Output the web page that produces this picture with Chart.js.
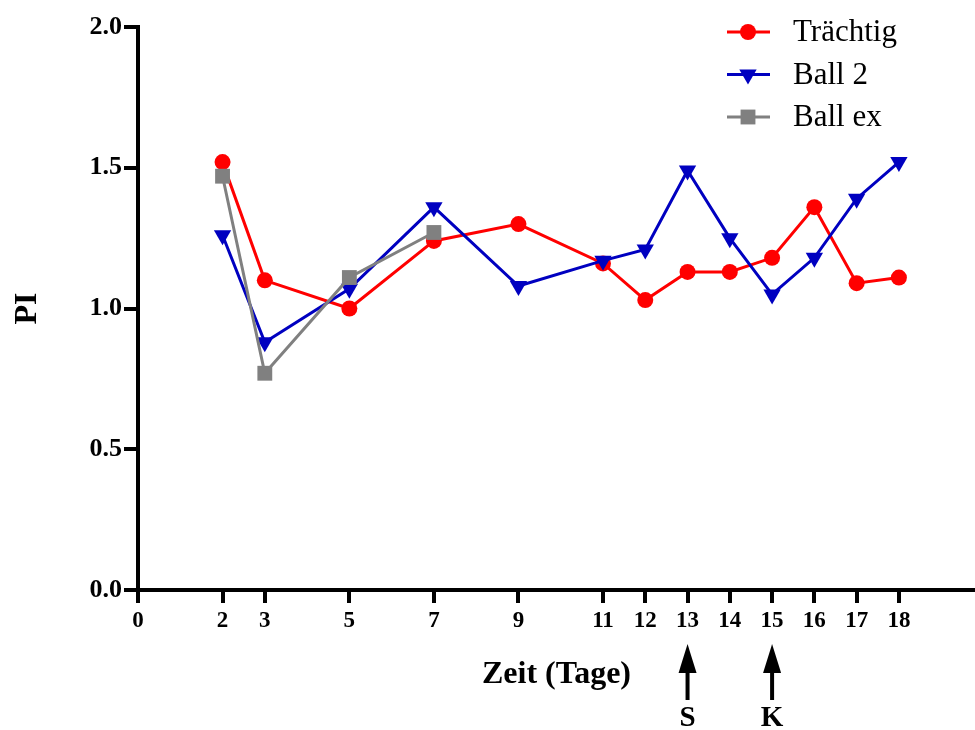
<!DOCTYPE html>
<html>
<head>
<meta charset="utf-8">
<script src="https://cdn.jsdelivr.net/npm/chart.js@4/dist/chart.umd.min.js"></script>
<style>
  html, body { margin: 0; padding: 0; background: #fff; overflow: hidden; }
  canvas { display: block; }
</style>
</head>
<body>
<canvas id="piChart" width="975" height="730"></canvas>
<script>
// Daten
const tageTraechtig = [2, 3, 5, 7, 9, 11, 12, 13, 14, 15, 16, 17, 18];
const piTraechtig = [1.52, 1.10, 1.00, 1.24, 1.30, 1.16, 1.03, 1.13, 1.13, 1.18, 1.36, 1.09, 1.11];

const tageBall2 = [2, 3, 5, 7, 9, 11, 12, 13, 14, 15, 16, 17, 18];
const piBall2 = [1.26, 0.88, 1.07, 1.36, 1.08, 1.17, 1.21, 1.49, 1.25, 1.05, 1.18, 1.39, 1.52];

const tageBallEx = [2, 3, 5, 7];
const piBallEx = [1.47, 0.77, 1.11, 1.27];

// Achsenbeschriftung
const xTicks = [0, 2, 3, 5, 7, 9, 11, 12, 13, 14, 15, 16, 17, 18];
const yTicks = [0, 0.5, 1.0, 1.5, 2.0];

// Pfeile unter der x-Achse
const pfeilTage = [13, 15];
const pfeilText = ['S', 'K'];

const serif = "'Liberation Serif', 'Times New Roman', serif";

function toPoints(xs, ys) {
    return xs.map((x, i) => ({ x: x, y: ys[i] }));
}

// eigene Legende: Linie + Marker + Text
const legendPlugin = {
    id: 'lineLegend',
    afterDraw(chart) {
        const ctx = chart.ctx;
        ctx.save();
        chart.data.datasets.forEach((ds, i) => {
            const y = 32 + i * 42.5;
            ctx.strokeStyle = ds.borderColor;
            ctx.lineWidth = 3;
            ctx.beginPath();
            ctx.moveTo(727, y);
            ctx.lineTo(770, y);
            ctx.stroke();
            ctx.fillStyle = ds.borderColor;
            drawMarker(ctx, ds.pointStyle, 748, y, ds.pointRadius, ds.pointRotation || 0);
            ctx.fillStyle = '#000';
            ctx.font = "31px " + serif;
            ctx.textBaseline = 'middle';
            ctx.textAlign = 'left';
            ctx.fillText(ds.label, 793, y + 1);
        });
        ctx.restore();
    }
};

function drawMarker(ctx, style, x, y, r, rot) {
    ctx.beginPath();
    if (style === 'circle') {
        ctx.arc(x, y, r, 0, Math.PI * 2);
    } else if (style === 'rect') {
        const s = r * Math.SQRT1_2;
        ctx.rect(x - s, y - s, 2 * s, 2 * s);
    } else if (style === 'triangle') {
        let a = rot * Math.PI / 180;
        ctx.moveTo(x + Math.sin(a) * r, y - Math.cos(a) * r);
        a += 2 * Math.PI / 3;
        ctx.lineTo(x + Math.sin(a) * r, y - Math.cos(a) * r);
        a += 2 * Math.PI / 3;
        ctx.lineTo(x + Math.sin(a) * r, y - Math.cos(a) * r);
        ctx.closePath();
    }
    ctx.fill();
}

// Pfeile S und K
const arrowPlugin = {
    id: 'arrows',
    afterDraw(chart) {
        const ctx = chart.ctx;
        const xs = chart.scales.x;
        ctx.save();
        ctx.fillStyle = '#000';
        ctx.strokeStyle = '#000';
        pfeilTage.forEach((tag, i) => {
            const px = xs.getPixelForValue(tag);
            ctx.lineWidth = 4;
            ctx.beginPath();
            ctx.moveTo(px, 700);
            ctx.lineTo(px, 668);
            ctx.stroke();
            ctx.beginPath();
            ctx.moveTo(px, 644);
            ctx.lineTo(px + 9, 673);
            ctx.lineTo(px - 9, 673);
            ctx.closePath();
            ctx.fill();
            ctx.font = "bold 29px " + serif;
            ctx.textAlign = 'center';
            ctx.textBaseline = 'middle';
            ctx.fillText(pfeilText[i], px, 719);
        });
        ctx.restore();
    }
};

const ctx = document.getElementById('piChart').getContext('2d');
const piChart = new Chart(ctx, {
    type: 'line',
    data: {
        datasets: [{
            label: 'Trächtig',
            data: toPoints(tageTraechtig, piTraechtig),
            borderColor: '#ff0000',
            backgroundColor: '#ff0000',
            borderWidth: 3,
            pointStyle: 'circle',
            pointRadius: 8,
            pointBorderWidth: 0,
            order: 3
        }, {
            label: 'Ball 2',
            data: toPoints(tageBall2, piBall2),
            borderColor: '#0000c0',
            backgroundColor: '#0000c0',
            borderWidth: 3,
            pointStyle: 'triangle',
            pointRotation: 180,
            pointRadius: 10,
            pointBorderWidth: 0,
            order: 2
        }, {
            label: 'Ball ex',
            data: toPoints(tageBallEx, piBallEx),
            borderColor: '#808080',
            backgroundColor: '#808080',
            borderWidth: 3,
            pointStyle: 'rect',
            pointRadius: 10.5,
            pointBorderWidth: 0,
            order: 1
        }]
    },
    options: {
        responsive: false,
        animation: false,
        layout: { autoPadding: false, padding: { top: 27, right: 0, bottom: 0, left: 0 } },
        plugins: {
            legend: { display: false },
            tooltip: { enabled: false }
        },
        scales: {
            x: {
                type: 'linear',
                min: 0,
                max: 19.8,
                afterBuildTicks: scale => { scale.ticks = xTicks.map(v => ({ value: v })); },
                afterFit: scale => {
                    scale.height = 140;
                    scale.paddingLeft = 0;
                    scale.paddingRight = 0;
                },
                ticks: {
                    color: '#000',
                    padding: 4,
                    maxRotation: 0,
                    autoSkip: false,
                    font: { family: serif, size: 23, weight: 'bold' }
                },
                grid: {
                    drawOnChartArea: false,
                    tickLength: 13,
                    lineWidth: 4,
                    color: '#000'
                },
                border: { width: 4, color: '#000' },
                title: {
                    display: true,
                    text: 'Zeit (Tage)',
                    color: '#000',
                    font: { family: serif, size: 32, weight: 'bold' },
                    padding: { top: 0, bottom: 36 }
                }
            },
            y: {
                min: 0,
                max: 2,
                afterBuildTicks: scale => { scale.ticks = yTicks.map(v => ({ value: v })); },
                afterFit: scale => { scale.width = 138; },
                ticks: {
                    color: '#000',
                    padding: 2,
                    callback: v => v.toFixed(1),
                    font: { family: serif, size: 26, weight: 'bold' }
                },
                grid: {
                    drawOnChartArea: false,
                    tickLength: 14,
                    lineWidth: 4,
                    color: '#000'
                },
                border: { width: 4, color: '#000' },
                title: {
                    display: true,
                    text: 'PI',
                    color: '#000',
                    font: { family: serif, size: 32, weight: 'bold' },
                    padding: { top: 9, bottom: 0 }
                }
            }
        }
    },
    plugins: [legendPlugin, arrowPlugin]
});
</script>
</body>
</html>
